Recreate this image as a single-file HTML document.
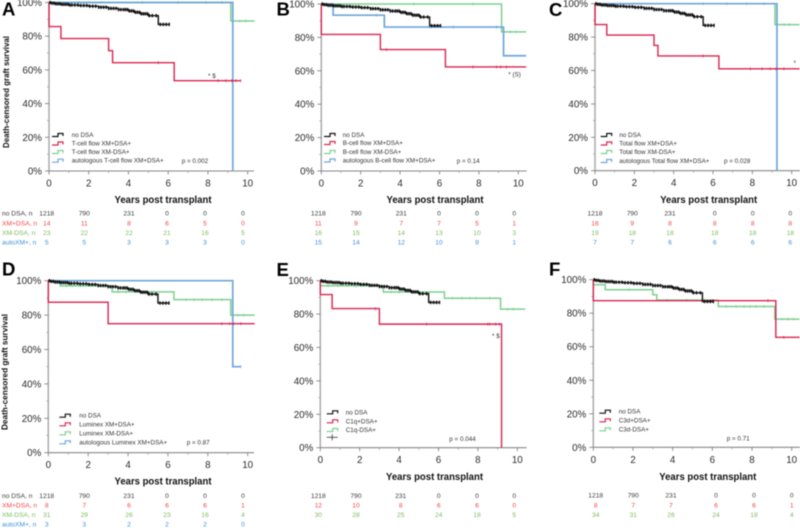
<!DOCTYPE html>
<html lang="en">
<head>
<meta charset="utf-8">
<title>Death-censored graft survival</title>
<style>
  html,body{margin:0;padding:0;background:#fff;}
  #figure{display:block;width:800px;height:528px;font-family:"Liberation Sans",Arial,sans-serif;filter:blur(0.4px);}
</style>
</head>
<body>
<svg id="figure" xmlns="http://www.w3.org/2000/svg" width="800" height="528" viewBox="0 0 800 528"></svg>
<script>
// ---------- shared tick labels ----------
const yearTicks = [0, 2, 4, 6, 8, 10];
const yearMinorTicks = [1, 3, 5, 7, 9];
const pctTicks = [0, 20, 40, 60, 80, 100];
const pctMinorTicks = [10, 30, 50, 70, 90];
const pctTickLabels = ['0%', '20%', '40%', '60%', '80%', '100%'];
const yearTickLabels = ['0', '2', '4', '6', '8', '10'];
const rowLabels = ['no DSA, n', 'XM+DSA, n', 'XM-DSA, n', 'autoXM+, n'];

// ---------- no DSA (same in all panels) ----------
const noDsaTimes = [0, 0.1, 0.3, 0.6, 1, 1.5, 2, 2.5, 3, 3.5, 4, 4.3, 4.6, 5, 5.5, 6.05];
const noDsaSurvival = [100, 99.6, 99.2, 98.9, 98.5, 98.2, 97.8, 97.2, 96.5, 95.8, 95, 94.2, 93.3, 92.2, 87, 87];
const noDsaCensor = [0.05, 0.15, 0.25, 0.35, 0.45, 0.55, 0.65, 0.75, 0.85, 0.95, 1.05, 1.15, 1.3, 1.45, 1.6, 1.75, 1.9, 2.05, 2.2, 2.35, 2.5, 2.62, 2.75, 2.88, 3, 3.12, 3.25, 3.38, 3.5, 3.62, 3.75, 3.85, 3.95, 4.05, 4.15, 4.25, 4.35, 4.45, 4.55, 4.65, 4.75, 4.85, 4.95, 5.05, 5.2, 5.4, 5.6, 5.75, 5.9, 6.05];
const noDsaAtRisk = [1218, 790, 231, 0, 0, 0];

// ---------- panel A ----------
const aRedTimes = [0, 0.001, 0.6, 3, 3.2, 6.3, 9.65];
const aRedSurvival = [100, 85.7, 78.6, 71.4, 64.3, 53.6, 53.6];
const aRedCensor = [5.5, 8.5, 8.9, 9.2, 9.4, 9.65];
const aRedAtRisk = [14, 11, 8, 6, 5, 0];
const aGreenTimes = [0, 9.15, 10.35];
const aGreenSurvival = [100, 89, 89];
const aGreenCensor = [0.5, 1.5, 2.6, 4.7, 6.5, 7.9, 8.7, 9.6, 9.9];
const aGreenAtRisk = [23, 22, 22, 21, 16, 5];
const aBlueTimes = [0, 9.25];
const aBlueSurvival = [100, 0];
const aBlueCensor = [];
const aBlueAtRisk = [5, 5, 3, 3, 3, 0];

// ---------- panel B ----------
const bRedTimes = [0, 0.001, 3, 6.3, 10.4];
const bRedSurvival = [100, 81.8, 72.7, 62.3, 62.3];
const bRedCensor = [3.3, 7.7, 8.9, 9.1, 9.4];
const bRedAtRisk = [11, 9, 7, 7, 5, 1];
const bGreenTimes = [0, 9.15, 10.4];
const bGreenSurvival = [100, 83.3, 83.3];
const bGreenCensor = [4.7, 7.7, 9.6, 9.9];
const bGreenAtRisk = [16, 15, 14, 13, 10, 3];
const bBlueTimes = [0, 0.6, 3.2, 9.25, 10.4];
const bBlueSurvival = [100, 93.3, 86.2, 69, 69];
const bBlueCensor = [2.8, 5.5, 6.7, 8.9];
const bBlueAtRisk = [15, 14, 12, 10, 9, 1];

// ---------- panel C ----------
const cRedTimes = [0, 0.001, 0.6, 3, 3.2, 6.3, 10.4];
const cRedSurvival = [100, 87.5, 81.2, 75, 68.7, 61, 61];
const cRedCensor = [5.5, 7.9, 8.5, 8.9, 9.2, 9.6];
const cRedAtRisk = [16, 9, 8, 8, 8, 8];
const cGreenTimes = [0, 9.15, 10.4];
const cGreenSurvival = [100, 87.5, 87.5];
const cGreenCensor = [5.5, 6.7, 7.7, 8.6, 9.6, 9.9];
const cGreenAtRisk = [19, 18, 18, 18, 18, 18];
const cBlueTimes = [0, 9.25];
const cBlueSurvival = [100, 0];
const cBlueCensor = [];
const cBlueAtRisk = [7, 7, 6, 6, 6, 6];

// ---------- panel D ----------
const dRedTimes = [0, 0.001, 3, 10.35];
const dRedSurvival = [100, 87.5, 75, 75];
const dRedCensor = [8.7, 9.1, 9.3, 9.65];
const dRedAtRisk = [8, 7, 6, 6, 6, 1];
const dGreenTimes = [0, 0.6, 3.2, 6.3, 9.15, 10.35];
const dGreenSurvival = [100, 97, 93.5, 89, 80, 80];
const dGreenCensor = [0.9, 1.2, 1.6, 2.8, 3.5, 3.9, 4.7, 5.2, 6.9, 7.3, 7.7, 8.2, 8.7, 9.5, 9.8];
const dGreenAtRisk = [31, 29, 26, 23, 16, 4];
const dBlueTimes = [0, 9.25, 9.65];
const dBlueSurvival = [100, 50, 50];
const dBlueCensor = [9.65];
const dBlueAtRisk = [3, 3, 2, 2, 2, 0];

// ---------- panel E ----------
const eRedTimes = [0, 0.001, 0.6, 3, 9.2];
const eRedSurvival = [100, 91.7, 83.3, 74, 0];
const eRedCensor = [2.8, 5.4, 8.5, 8.6, 8.9, 9.1];
const eRedAtRisk = [12, 10, 8, 6, 6, 0];
const eGreenTimes = [0, 0.001, 3.2, 6.3, 9.15, 10.4];
const eGreenSurvival = [100, 97, 93.2, 89.5, 83, 83];
const eGreenCensor = [0.4, 0.9, 1.4, 1.8, 3.6, 4, 4.7, 6.7, 7.2, 7.6, 7.9, 8.6, 9.5, 9.8];
const eGreenAtRisk = [30, 28, 25, 24, 18, 5];

// ---------- panel F ----------
const fRedTimes = [0, 0.001, 9.2, 10.4];
const fRedSurvival = [100, 87.5, 65.6, 65.6];
const fRedCensor = [6, 8.8, 9.6];
const fRedAtRisk = [8, 7, 7, 6, 6, 1];
const fGreenTimes = [0, 0.001, 0.6, 3, 3.2, 6.3, 9.15, 10.4];
const fGreenSurvival = [100, 97, 94, 91, 87.8, 84, 76.5, 76.5];
const fGreenCensor = [1.8, 3.7, 4.7, 5.6, 6.7, 7.2, 7.6, 7.9, 8.2, 8.6, 9.5, 9.8, 10.1];
const fGreenAtRisk = [34, 31, 26, 24, 18, 4];

// ---------- legend text ----------
const aLegend = ['no DSA', 'T-cell flow XM+DSA+', 'T-cell flow XM-DSA+', 'autologous T-cell flow XM+DSA+'];
const bLegend = ['no DSA', 'B-cell flow XM+DSA+', 'B-cell flow XM-DSA+', 'autologous B-cell flow XM+DSA+'];
const cLegend = ['no DSA', 'Total flow XM+DSA+', 'Total flow XM-DSA+', 'autologous Total flow XM+DSA+'];
const dLegend = ['no DSA', 'Luminex XM+DSA+', 'Luminex XM-DSA+', 'autologous Luminex XM+DSA+'];
const eLegend = ['no DSA', 'C1q+DSA+', 'C1q-DSA+', ''];
const fLegend = ['no DSA', 'C3d+DSA+', 'C3d-DSA+'];

// ---------- styling ----------
const lineColor = {black: '#111', red: '#d9254f', green: '#7ecf90', blue: '#6ea6dc'};
const tableColor = {black: '#3a3a3a', red: '#f2474a', green: '#7dbb5c', blue: '#3d90d8'};
const lineWidth = {black: 1.4, red: 1.4, green: 1.5, blue: 1.7};
const drawOrder = ['green', 'blue', 'red', 'black'];

function seriesSet(red, green, blue) {
  const list = [{key: 'black', times: noDsaTimes, survival: noDsaSurvival, censor: noDsaCensor, atRisk: noDsaAtRisk}, red, green];
  if (blue) list.push(blue);
  return list;
}

const panels = [
  {id: 'a', letter: 'A', letterX: 2, letterY: 15.5, x0: 49, x10: 247.7, y100: 2.5, y0: 171, right: 254,
   title: {x: 6, y: 92, len: 112}, xLabel: {x: 163, y: 203}, legend: aLegend,
   glyphX: 52, textX: 71.7, legendY: [135, 143.5, 152, 160.7], p: {text: 'p = 0.002', x: 181.7, y: 163}, note: {text: '* $', x: 208, y: 78},
   tableY: [213.3, 223, 232.7, 242.3], columnX: [46.7, 84.3, 129, 167, 205, 243], showRowLabels: true,
   series: seriesSet({key: 'red', times: aRedTimes, survival: aRedSurvival, censor: aRedCensor, atRisk: aRedAtRisk},
                     {key: 'green', times: aGreenTimes, survival: aGreenSurvival, censor: aGreenCensor, atRisk: aGreenAtRisk},
                     {key: 'blue', times: aBlueTimes, survival: aBlueSurvival, censor: aBlueCensor, atRisk: aBlueAtRisk})},
  {id: 'b', letter: 'B', letterX: 276.5, letterY: 15.7, x0: 321.3, x10: 518.3, y100: 4, y0: 171, right: 526.7,
   xLabel: {x: 435, y: 203}, legend: bLegend,
   glyphX: 324, textX: 342.7, legendY: [135, 143, 152, 160.5], p: {text: 'p = 0.14', x: 456.7, y: 163}, note: {text: '* (S)', x: 508.3, y: 76.5},
   tableY: [213.3, 223, 232.7, 242.3], columnX: [318.3, 356, 401.3, 439, 477, 514.3],
   series: seriesSet({key: 'red', times: bRedTimes, survival: bRedSurvival, censor: bRedCensor, atRisk: bRedAtRisk},
                     {key: 'green', times: bGreenTimes, survival: bGreenSurvival, censor: bGreenCensor, atRisk: bGreenAtRisk},
                     {key: 'blue', times: bBlueTimes, survival: bBlueSurvival, censor: bBlueCensor, atRisk: bBlueAtRisk})},
  {id: 'c', letter: 'C', letterX: 549, letterY: 16, x0: 595, x10: 791.7, y100: 3.7, y0: 170.7, right: 800,
   xLabel: {x: 708.7, y: 203}, legend: cLegend,
   glyphX: 600.7, textX: 619.3, legendY: [135, 143.5, 152, 161], p: {text: 'p = 0.028', x: 724, y: 163}, note: {text: '*', x: 793.5, y: 65},
   tableY: [213.3, 223, 232.7, 242.3], columnX: [595, 632.3, 670, 714.7, 752.7, 790.3],
   series: seriesSet({key: 'red', times: cRedTimes, survival: cRedSurvival, censor: cRedCensor, atRisk: cRedAtRisk},
                     {key: 'green', times: cGreenTimes, survival: cGreenSurvival, censor: cGreenCensor, atRisk: cGreenAtRisk},
                     {key: 'blue', times: cBlueTimes, survival: cBlueSurvival, censor: cBlueCensor, atRisk: cBlueAtRisk})},
  {id: 'd', letter: 'D', letterX: 2, letterY: 275.7, x0: 48.3, x10: 247.7, y100: 280.7, y0: 452.7, right: 254,
   title: {x: 4.5, y: 372, len: 116}, xLabel: {x: 163, y: 484.5}, legend: dLegend,
   glyphX: 59.3, textX: 79.3, legendY: [415.7, 424.3, 433.3, 442.3], p: {text: 'p = 0.87', x: 186.7, y: 444.5},
   tableY: [495.7, 505.3, 514.7, 524.3], columnX: [46.7, 84.3, 129, 167, 205, 243], showRowLabels: true,
   series: seriesSet({key: 'red', times: dRedTimes, survival: dRedSurvival, censor: dRedCensor, atRisk: dRedAtRisk},
                     {key: 'green', times: dGreenTimes, survival: dGreenSurvival, censor: dGreenCensor, atRisk: dGreenAtRisk},
                     {key: 'blue', times: dBlueTimes, survival: dBlueSurvival, censor: dBlueCensor, atRisk: dBlueAtRisk})},
  {id: 'e', letter: 'E', letterX: 276.5, letterY: 276, x0: 320.3, x10: 517.3, y100: 280.7, y0: 447.7, right: 526.7,
   xLabel: {x: 434.5, y: 480}, legend: eLegend, crossEntry: true,
   glyphX: 326.7, textX: 345.7, legendY: [412.3, 421.3, 430, 437.3], p: {text: 'p = 0.044', x: 449.3, y: 441}, note: {text: '* $', x: 492, y: 338},
   tableY: [495.7, 505.3, 514.7], columnX: [318.3, 356, 400.7, 438.7, 477, 514.3],
   series: seriesSet({key: 'red', times: eRedTimes, survival: eRedSurvival, censor: eRedCensor, atRisk: eRedAtRisk},
                     {key: 'green', times: eGreenTimes, survival: eGreenSurvival, censor: eGreenCensor, atRisk: eGreenAtRisk})},
  {id: 'f', letter: 'F', letterX: 549, letterY: 275.7, x0: 593.3, x10: 791.7, y100: 279.7, y0: 447.3, right: 800,
   xLabel: {x: 707.8, y: 480}, legend: fLegend,
   glyphX: 599.3, textX: 618.7, legendY: [411.7, 420.3, 429.3], p: {text: 'p = 0.71', x: 726.7, y: 440.5},
   tableY: [495.3, 505, 514.7], columnX: [595.7, 633.3, 671, 716, 754, 791.7],
   series: seriesSet({key: 'red', times: fRedTimes, survival: fRedSurvival, censor: fRedCensor, atRisk: fRedAtRisk},
                     {key: 'green', times: fGreenTimes, survival: fGreenSurvival, censor: fGreenCensor, atRisk: fGreenAtRisk})}
];

// ---------- drawing ----------
const NS = 'http://www.w3.org/2000/svg';
const figure = document.getElementById('figure');

function makeGroup(parent) {
  const g = document.createElementNS(NS, 'g');
  parent.appendChild(g);
  return g;
}
function makeLine(parent, x1, y1, x2, y2, color, width) {
  const l = document.createElementNS(NS, 'line');
  l.setAttribute('x1', x1);
  l.setAttribute('y1', y1);
  l.setAttribute('x2', x2);
  l.setAttribute('y2', y2);
  l.setAttribute('stroke', color);
  l.setAttribute('stroke-width', width);
  parent.appendChild(l);
  return l;
}
function makePath(parent, d, color, width) {
  const p = document.createElementNS(NS, 'path');
  p.setAttribute('d', d);
  p.setAttribute('fill', 'none');
  p.setAttribute('stroke', color);
  p.setAttribute('stroke-width', width);
  parent.appendChild(p);
  return p;
}
function makeText(parent, str, x, y, size, fill, anchor, weight) {
  const t = document.createElementNS(NS, 'text');
  t.textContent = str;
  t.setAttribute('x', x);
  t.setAttribute('y', y);
  t.setAttribute('font-size', size);
  t.setAttribute('fill', fill);
  t.setAttribute('text-anchor', anchor || 'start');
  if (weight) t.setAttribute('font-weight', weight);
  parent.appendChild(t);
  return t;
}
function survivalAt(times, survival, t) {
  let value = survival[0];
  for (let i = 0; i < times.length; i++) {
    if (times[i] <= t) value = survival[i];
  }
  return value;
}

panels.forEach(function (panel) {
  const xScale = function (year) { return panel.x0 + (panel.x10 - panel.x0) * year / 10; };
  const yScale = function (pct) { return panel.y0 - (panel.y0 - panel.y100) * pct / 100; };

  const group = makeGroup(figure);
  
  

  const letter = makeText(group, panel.letter, panel.letterX, panel.letterY, 18.5, '#000', 'start', 'bold');
  
  

  // axes
  const axes = makeGroup(group);
  
  
  const yAxis = makeLine(axes, panel.x0, panel.y100, panel.x0, panel.y0, '#aaa', 1.5);
  
  
  const xAxis = makeLine(axes, panel.x0, panel.y0, panel.right, panel.y0, '#888', 1.1);
  
  

  pctTicks.forEach(function (pct, i) {
    const tick = makeLine(axes, panel.x0 - 4, yScale(pct), panel.x0, yScale(pct), '#777', 0.8);
    
    
    const label = makeText(axes, pctTickLabels[i], panel.x0 - 7, yScale(pct) + 3.5, 9.8, '#2a2a2a', 'end');
    
    
  });
  pctMinorTicks.forEach(function (pct) {
    const tick = makeLine(axes, panel.x0 - 2, yScale(pct), panel.x0, yScale(pct), '#999', 0.7);
    
    
  });
  yearTicks.forEach(function (year, i) {
    const tick = makeLine(axes, xScale(year), panel.y0, xScale(year), panel.y0 + 3.5, '#777', 0.8);
    
    
    const label = makeText(axes, yearTickLabels[i], xScale(year), panel.y0 + 15.5, 9.8, '#2a2a2a', 'middle');
    
    
  });
  yearMinorTicks.forEach(function (year) {
    const tick = makeLine(axes, xScale(year), panel.y0, xScale(year), panel.y0 + 2, '#999', 0.7);
    
    
  });

  if (panel.title) {
    const yTitle = makeText(axes, 'Death-censored graft survival', 0, 0, 8.5, '#111', 'middle', 'bold');
    yTitle.setAttribute('transform', 'translate(' + (panel.title.x + 3) + ' ' + panel.title.y + ') rotate(-90)');
    yTitle.setAttribute('textLength', panel.title.len);
    yTitle.setAttribute('lengthAdjust', 'spacingAndGlyphs');
    
    
  }
  const xTitle = makeText(axes, 'Years post transplant', panel.xLabel.x, panel.xLabel.y, 9.8, '#111', 'middle', 'bold');
  xTitle.setAttribute('textLength', 97);
  xTitle.setAttribute('lengthAdjust', 'spacingAndGlyphs');
  
  

  // curves
  drawOrder.forEach(function (key) {
    const s = panel.series.find(function (item) { return item.key === key; });
    if (!s) return;
    let d = 'M' + xScale(s.times[0]) + ' ' + yScale(s.survival[0]);
    for (let i = 1; i < s.times.length; i++) {
      d += 'H' + xScale(s.times[i]) + 'V' + yScale(s.survival[i]);
    }
    const curve = makePath(group, d, lineColor[key], lineWidth[key]);
    
    

    s.censor.forEach(function (t) {
      const yy = yScale(survivalAt(s.times, s.survival, t));
      const half = key === 'black' ? 1.7 : 1.5;
      const mark = makeLine(group, xScale(t), yy - half, xScale(t), yy + half, lineColor[key], key === 'black' ? 1.4 : 0.7);
      
      
    });
  });

  // legend
  const legend = makeGroup(group);
  
  
  panel.legend.forEach(function (label, i) {
    const yy = panel.legendY[i];
    if (panel.crossEntry && i === 3) {
      const crossH = makeLine(legend, panel.glyphX, yy, panel.glyphX + 11, yy, '#333', 0.8);
      
      
      const crossV = makeLine(legend, panel.glyphX + 5.5, yy - 3, panel.glyphX + 5.5, yy + 3, '#333', 0.8);
      
      
      return;
    }
    const key = panel.series[i].key;
    const glyph = makePath(legend, 'M' + panel.glyphX + ' ' + (yy + 1.5) + 'h6v-3h5v2.5', lineColor[key], 1.2);
    
    
    const text = makeText(legend, label, panel.textX, yy + 2, 6.3, '#333');
    
    
  });

  const pText = makeText(group, panel.p.text, panel.p.x, panel.p.y, 6.3, '#333');
  
  
  if (panel.note) {
    const note = makeText(group, panel.note.text, panel.note.x, panel.note.y, 6.3, '#333');
    
    
  }

  // numbers at risk
  const table = makeGroup(group);
  
  
  panel.series.forEach(function (s, row) {
    const yy = panel.tableY[row] + 2.4;
    if (panel.showRowLabels) {
      const rowLabel = makeText(table, rowLabels[row], 2, yy, 6.7, tableColor[s.key]);
      
      
    }
    s.atRisk.forEach(function (n, col) {
      const cell = makeText(table, String(n), panel.columnX[col], yy, 6.7, tableColor[s.key], 'middle');
      
      
    });
  });
});
</script>
</body>
</html>
